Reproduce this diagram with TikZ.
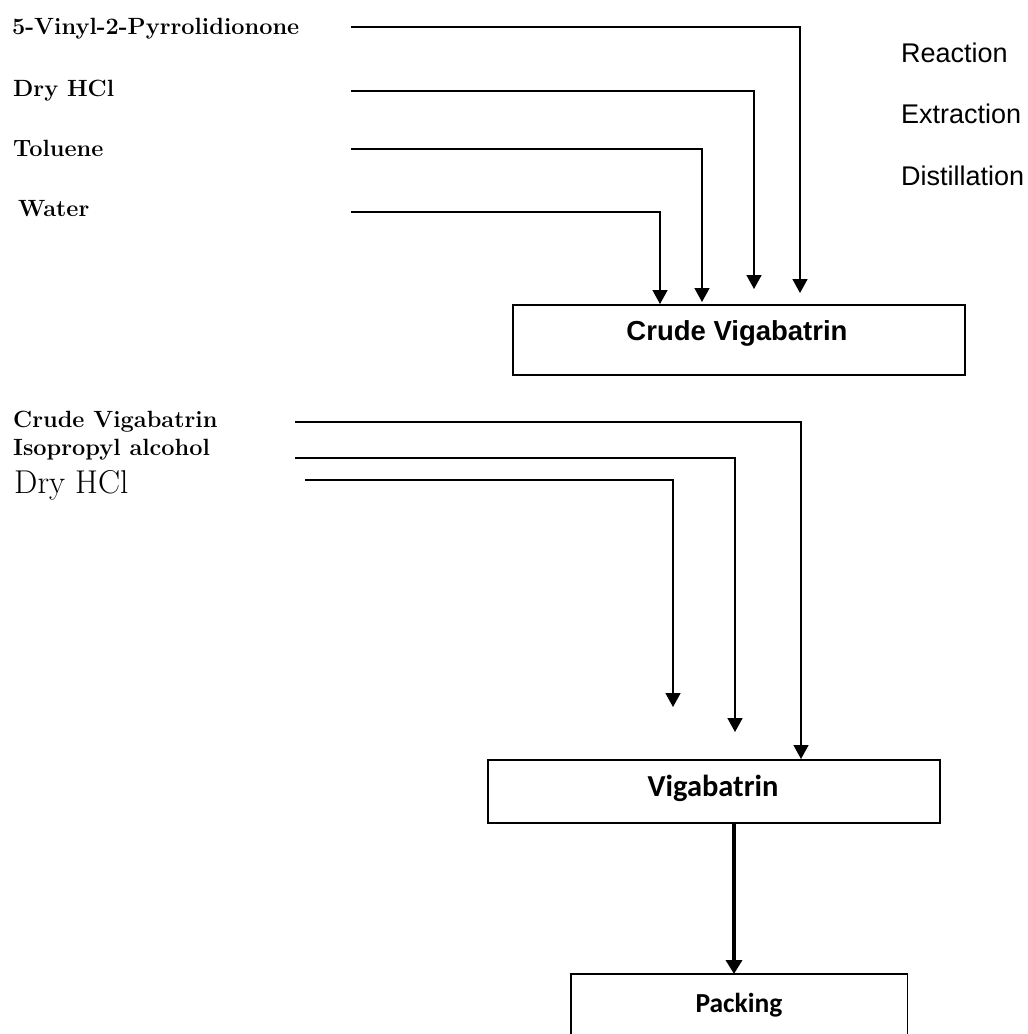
\documentclass[tikz,border=0pt]{standalone}
\usepackage{fontspec}
\newfontfamily\arialfont{Liberation Sans}
\newfontfamily\calibrifont{Carlito}
\usetikzlibrary{arrows.meta}

\begin{document}
\begin{tikzpicture}[x=1pt,y=-1pt,
  feed/.style={line width=1.6pt,-{Triangle[width=15pt,length=14pt]}},
  outflow/.style={line width=4pt,-{Triangle[width=16pt,length=14pt]}},
  chem/.style={anchor=base west,inner sep=0pt,font=\fontsize{23.5}{23.5}\selectfont\bfseries},
  stage/.style={anchor=base west,inner sep=0pt,font=\arialfont\fontsize{27}{27}\selectfont},
  unitbox/.style={draw,line width=1.6pt,anchor=north west,inner sep=0pt}]
\useasboundingbox (0,0) rectangle (1028,1034);

\node[chem] (vinyl) at (12,34) {5-Vinyl-2-Pyrrolidionone};
\node[chem] (hcla) at (13,96) {Dry HCl};
\node[chem] (toluene) at (13,156) {Toluene};
\node[chem] (water) at (18,216) {Water};

\node[stage] (reaction) at (901,62) {Reaction};
\node[stage] (extraction) at (901,123) {Extraction};
\node[stage] (distillation) at (901,185) {Distillation};

\node[unitbox,minimum width=452pt,minimum height=70pt] (crudebox) at (512,304) {};
\node[anchor=base,inner sep=0pt,font=\arialfont\bfseries\fontsize{27.5}{27.5}\selectfont] (crudetxt) at (737,340) {Crude Vigabatrin};

\coordinate (s1) at (351,27);  \coordinate (t1) at (800,293);
\coordinate (s2) at (351,91);  \coordinate (t2) at (754,289);
\coordinate (s3) at (351,149); \coordinate (t3) at (702,302);
\coordinate (s4) at (351,212); \coordinate (t4) at (660,304);
\draw[feed] (s1) -| (t1);
\draw[feed] (s2) -| (t2);
\draw[feed] (s3) -| (t3);
\draw[feed] (s4) -| (t4 |- crudebox.north);

\node[chem] (crudein) at (13,427) {Crude Vigabatrin};
\node[chem] (ipa) at (13,455) {Isopropyl alcohol};
\node[anchor=base west,inner sep=0pt,font=\fontsize{33}{33}\selectfont] (hclb) at (14,493) {Dry HCl};

\node[unitbox,minimum width=452pt,minimum height=63pt] (vigbox) at (487,759) {};
\node[anchor=base,inner sep=0pt,font=\calibrifont\bfseries\fontsize{30.5}{30.5}\selectfont] (vigtxt) at (713,796) {Vigabatrin};

\coordinate (r1) at (295,422); \coordinate (e1) at (801,759);
\coordinate (r2) at (295,458); \coordinate (e2) at (735,732);
\coordinate (r3) at (305,480); \coordinate (e3) at (673,707);
\draw[feed] (r1) -| (e1 |- vigbox.north);
\draw[feed] (r2) -| (e2);
\draw[feed] (r3) -| (e3);

\node[minimum width=336pt,minimum height=72pt,anchor=north west,inner sep=0pt] (packbox) at (571,974) {};
\draw[line width=1.6pt] (packbox.south west) -- (packbox.north west) -- (packbox.north east) -- (packbox.south east);
\node[anchor=base,inner sep=0pt,font=\calibrifont\bfseries\fontsize{27.5}{27.5}\selectfont] (packtxt) at (739,1012) {Packing};

\coordinate (drop) at (734,822);
\draw[outflow] (drop) -- (drop |- packbox.north);
\end{tikzpicture}
\end{document}
